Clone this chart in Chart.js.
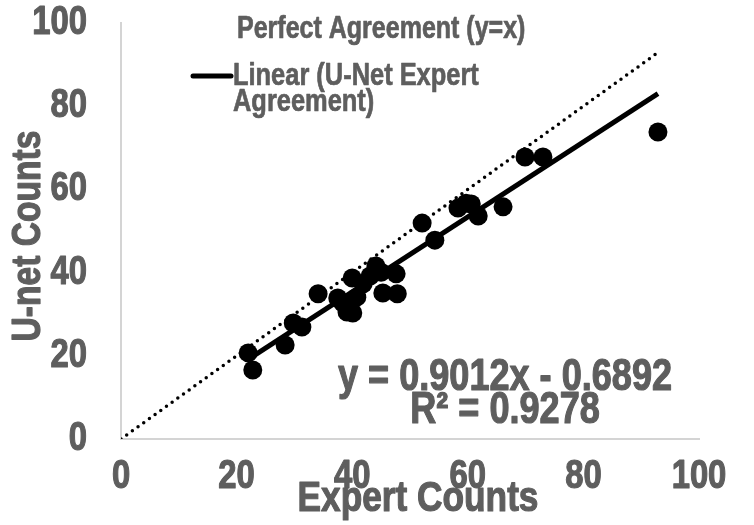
<!DOCTYPE html>
<html>
<head>
<meta charset="utf-8">
<script src="https://cdn.jsdelivr.net/npm/chart.js@4/dist/chart.umd.min.js"></script>
<style>
  html, body { margin: 0; padding: 0; background: #ffffff; }
  #wrap { width: 754px; height: 525px; }
</style>
</head>
<body>
<div id="wrap"><canvas id="chart" width="754" height="525"></canvas></div>
<script>
// Paired counts: expert annotation vs. U-Net prediction
const expertCounts = [22.0, 22.8, 28.4, 29.8, 31.3, 34.1, 37.5, 38.4, 39.1, 40.0, 40.1, 40.8, 41.9,
                      43.1, 44.1, 45.0, 45.3, 47.6, 47.8, 52.1, 54.3, 58.3, 59.7, 60.6, 61.8, 66.1,
                      69.9, 73.0, 92.9];
const unetCounts   = [20.7, 16.6, 22.6, 27.9, 26.9, 34.9, 33.9, 32.7, 30.5, 38.7, 30.3, 34.1, 37.3,
                      39.2, 41.6, 40.1, 35.1, 39.7, 34.9, 51.9, 47.8, 55.5, 56.7, 56.5, 53.6, 55.8,
                      67.8, 67.8, 73.8];

// Least-squares fit reported on the chart
const trendSlope = 0.9012;
const trendIntercept = -0.6892;
const rSquared = 0.9278;

const axisTicks = [0, 20, 40, 60, 80, 100];
const axisTitles = { x: 'Expert Counts', y: 'U-net Counts' };

const legendLabels = ['Perfect Agreement (y=x)', ['Linear (U-Net Expert', 'Agreement)']];
const equationLines = [
  'y = ' + trendSlope.toFixed(4) + 'x - ' + Math.abs(trendIntercept).toFixed(4),
  'R\u00B2 = ' + rSquared.toFixed(4)
];

const FONT = '"Liberation Sans", Arial, Helvetica, sans-serif';
const GREY = '#5e5e5e';
const NARROW = 0.82;   // horizontal squeeze for a condensed bold face

const points = expertCounts.map((x, i) => ({ x: x, y: unetCounts[i] }));
const xMin = Math.min(...expertCounts);
const xMax = Math.max(...expertCounts);
const trendPoints = [xMin, xMax].map(x => ({ x: x, y: trendSlope * x + trendIntercept }));
const identityPoints = [0, xMax].map(v => ({ x: v, y: v }));

// Condensed heavy text helper
function narrowText(ctx, text, x, y, size, align, rotation) {
  ctx.save();
  ctx.translate(x, y);
  if (rotation) ctx.rotate(rotation);
  ctx.scale(NARROW, 1);
  ctx.font = 'bold ' + size + 'px ' + FONT;
  ctx.fillStyle = GREY;
  ctx.strokeStyle = GREY;
  ctx.lineWidth = size > 35 ? 1.2 : 0.7;
  ctx.lineJoin = 'round';
  ctx.textAlign = align;
  ctx.textBaseline = 'middle';
  ctx.fillText(text, 0, 0);
  ctx.strokeText(text, 0, 0);
  ctx.restore();
}

// Tick labels, axis titles, legend block and regression equation
const textLayer = {
  id: 'textLayer',
  afterDraw(chart) {
    const ctx = chart.ctx;
    const xs = chart.scales.x;
    const ys = chart.scales.y;

    axisTicks.forEach(v => {
      narrowText(ctx, String(v), xs.getPixelForValue(v), 477, 40, 'center');
      narrowText(ctx, String(v), 87, ys.getPixelForValue(v), 40, 'right');
    });
    narrowText(ctx, axisTitles.x, 418, 499, 43, 'center');
    narrowText(ctx, axisTitles.y, 29, (ys.top + ys.bottom) / 2 + 5, 41, 'center', -Math.PI / 2);

    narrowText(ctx, legendLabels[0], 237, 30, 30.5, 'left');
    ctx.save();
    ctx.strokeStyle = '#000000';
    ctx.lineWidth = 5;
    ctx.lineCap = 'round';
    ctx.beginPath();
    ctx.moveTo(193, 76);
    ctx.lineTo(231, 76);
    ctx.stroke();
    ctx.restore();
    narrowText(ctx, legendLabels[1][0], 233, 76, 31, 'left');
    narrowText(ctx, legendLabels[1][1], 233, 102, 31, 'left');

    narrowText(ctx, equationLines[0], 505, 378, 44, 'center');
    narrowText(ctx, equationLines[1], 505, 411, 44, 'center');
  }
};

new Chart(document.getElementById('chart'), {
  type: 'scatter',
  data: {
    datasets: [
      {
        label: 'Perfect Agreement (y=x)',
        data: identityPoints,
        showLine: true,
        borderColor: '#000000',
        borderWidth: 3.5,
        borderDash: [0, 7],
        borderCapStyle: 'round',
        pointRadius: 0,
        order: 3
      },
      {
        label: 'Linear (U-Net Expert Agreement)',
        data: trendPoints,
        showLine: true,
        borderColor: '#000000',
        borderWidth: 5,
        pointRadius: 0,
        order: 2
      },
      {
        label: 'U-Net Expert Agreement',
        data: points,
        backgroundColor: '#000000',
        borderWidth: 0,
        pointRadius: 9.5,
        order: 1
      }
    ]
  },
  options: {
    responsive: false,
    animation: false,
    devicePixelRatio: 1,
    layout: { padding: { top: 23, right: 55, left: 0, bottom: 0 } },
    plugins: {
      legend: { display: false },
      tooltip: { enabled: false }
    },
    scales: {
      x: {
        type: 'linear',
        min: 0,
        max: 100,
        afterBuildTicks: s => { s.ticks = axisTicks.map(v => ({ value: v })); },
        afterFit: s => { s.height = 86; s.paddingLeft = 0; s.paddingRight = 0; },
        grid: { display: false, drawTicks: false },
        border: { display: true, color: '#d4d4d4', width: 2 },
        ticks: { display: false }
      },
      y: {
        type: 'linear',
        min: 0,
        max: 100,
        afterBuildTicks: s => { s.ticks = axisTicks.map(v => ({ value: v })); },
        afterFit: s => { s.width = 121; s.paddingTop = 0; s.paddingBottom = 0; },
        grid: { display: false, drawTicks: false },
        border: { display: true, color: '#d4d4d4', width: 2 },
        ticks: { display: false }
      }
    }
  },
  plugins: [textLayer]
});
</script>
</body>
</html>
